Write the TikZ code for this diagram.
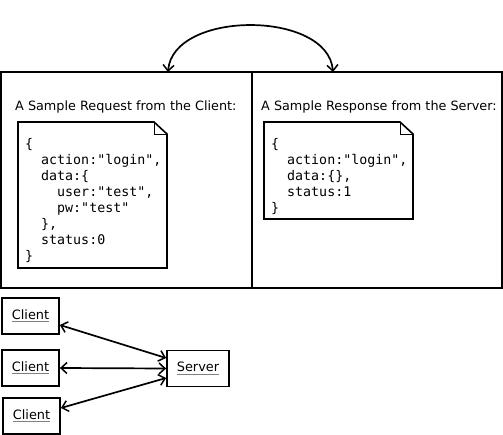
\documentclass[tikz,border=0pt]{standalone}
\usepackage{fontspec}
\setmainfont{DejaVu Sans}
\setmonofont{DejaVu Sans Mono}
\usetikzlibrary{arrows.meta}
\newcommand\grayul[1]{\setbox0\hbox{#1}\rlap{\color{gray}\rule[-2.8pt]{\wd0}{1pt}}\box0}
\tikzset{
  frame/.style={draw=black, line width=1.8pt},
  docbox/.style={draw=black, line width=1.6pt, fill=white, line join=miter},
  fold/.style={draw=black, line width=0.9pt},
  code/.style={anchor=north west, inner sep=0pt, align=left, font=\ttfamily\fontsize{13.3}{16}\selectfont},
  title/.style={anchor=base west, inner sep=0pt, font=\fontsize{12.8}{15}\selectfont},
  entity/.style={draw=black, line width=1.8pt, minimum height=36pt, inner sep=0pt, font=\fontsize{12.9}{15}\selectfont},
  link/.style={line width=1.7pt, {Straight Barb[length=6pt,width=11pt,line width=1.5pt]}-{Straight Barb[length=6pt,width=11pt,line width=1.5pt]}},
}
\begin{document}
\begin{tikzpicture}[x=1pt,y=-1pt]
\useasboundingbox (0,0) rectangle (503,435);
% panels
\draw[frame] (1,72) rectangle (502,288);
\draw[frame] (252,72) -- (252,288);
\coordinate (pl) at (168,72);
\coordinate (pr) at (333,72);
% titles
\node[title] (t1) at (15,110.5) {A Sample Request from the Client:};
\node[title] (t2) at (261,110.5) {A Sample Response from the Server:};
% docs
\draw[docbox] (18,122) -- (154,122) -- (167,134) -- (167,268) -- (18,268) -- cycle;
\draw[fold] (154,122) -- (154,134) -- (167,134);
\draw[docbox] (264,122) -- (400,122) -- (413,134) -- (413,219) -- (264,219) -- cycle;
\draw[fold] (400,122) -- (400,134) -- (413,134);
\node[code] (c1) at (25,138) {\{\\\ \ action:"login",\\\ \ data:\{\\\ \ \ \ user:"test",\\\ \ \ \ pw:"test"\\\ \ \},\\\ \ status:0\\\}};
\node[code] (c2) at (271,138) {\{\\\ \ action:"login",\\\ \ data:\{\},\\\ \ status:1\\\}};
% top arc
\draw[link] (pl) .. controls (173,10) and (328,10) .. (pr);
% clients
\node[entity, minimum width=57pt] (cl1) at (30.5,316) {\grayul{Client}};
\node[entity, minimum width=57pt] (cl2) at (30.5,368) {\grayul{Client}};
\node[entity, minimum width=57pt] (cl3) at (31.5,416) {\grayul{Client}};
\node[entity, minimum width=62pt] (sv) at (198,368.5) {\grayul{Server}};
\draw[link] (cl1.east|-0,325) -- (sv.west|-0,358);
\draw[link] (cl2.east) -- (sv.west);
\draw[link] (cl3.east|-0,408) -- (sv.west|-0,378);
\end{tikzpicture}
\end{document}
